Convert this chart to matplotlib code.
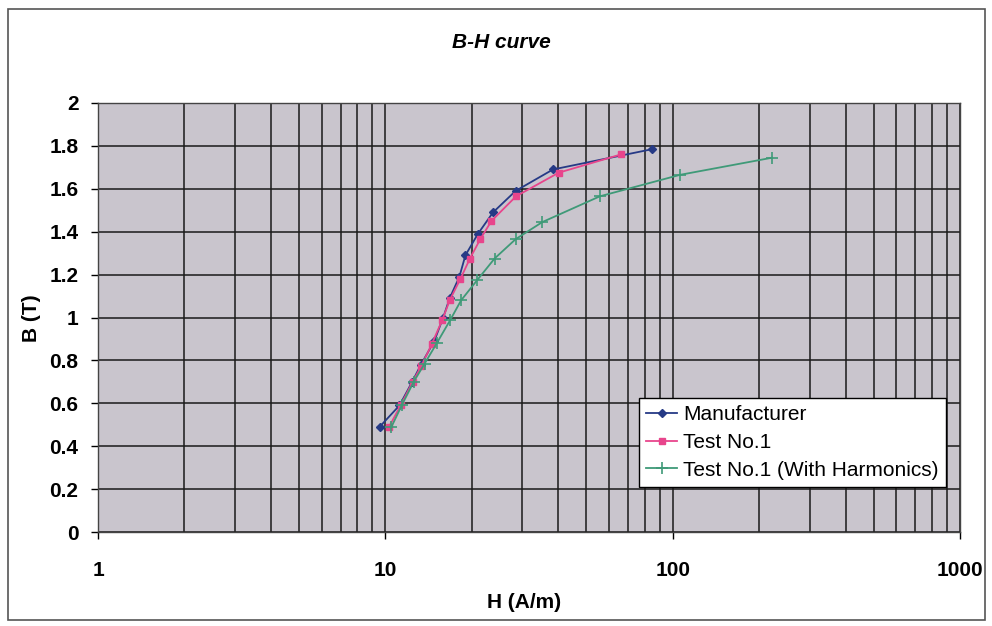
import numpy as np
import matplotlib.pyplot as plt
from matplotlib.ticker import FixedLocator, LogLocator, NullFormatter
from matplotlib.patches import Rectangle

# data
h_man = [9.55, 11.2, 12.4, 13.3, 14.8, 15.9, 16.75, 18.1, 19.0, 21.0, 23.7, 28.4, 38.3, 85.0]
b_man = [0.49, 0.59, 0.70, 0.78, 0.89, 1.00, 1.09, 1.19, 1.29, 1.39, 1.49, 1.59, 1.69, 1.785]

h_test = [10.3, 11.3, 12.45, 13.35, 14.5, 15.8, 16.75, 18.25, 19.7, 21.4, 23.4, 28.5, 40.1, 66.0]
b_test = [0.49, 0.59, 0.70, 0.775, 0.875, 0.99, 1.08, 1.18, 1.275, 1.365, 1.45, 1.565, 1.675, 1.76]

h_harm = [10.5, 11.4, 12.55, 13.7, 15.1, 16.85, 18.35, 20.9, 24.0, 28.4, 35.2, 55.8, 106.0, 222.0]
b_harm = [0.49, 0.59, 0.70, 0.785, 0.88, 0.99, 1.08, 1.175, 1.275, 1.365, 1.445, 1.565, 1.665, 1.745]

plt.rcParams['font.family'] = ['Liberation Sans', 'DejaVu Sans']

fig = plt.figure(figsize=(9.92, 6.26), dpi=100)
fig.patch.set_facecolor('white')
fig.patches.append(Rectangle((0.008, 0.01), 0.985, 0.975, transform=fig.transFigure,
                             fill=False, edgecolor='#555555', linewidth=1.2))

ax = fig.add_axes([98 / 992, 1 - 532 / 626, (960 - 98) / 992, (532 - 103) / 626])
ax.set_facecolor('#c9c5cd')

ax.plot(h_man, b_man, color='#263a86', marker='D', markersize=4.5, linewidth=1.3, label='Manufacturer')
ax.plot(h_test, b_test, color='#e8458c', marker='s', markersize=5, linewidth=1.3, label='Test No.1')
ax.plot(h_harm, b_harm, color='#3f9a78', marker='+', markersize=8, markeredgewidth=1.2,
        linewidth=1.3, label='Test No.1 (With Harmonics)')

ax.set_xscale('log')
ax.set_xlim(1, 1000)
ax.set_ylim(0, 2)
ax.xaxis.set_major_locator(FixedLocator([1, 10, 100, 1000]))
ax.xaxis.set_minor_locator(LogLocator(base=10, subs=np.arange(2, 10)))
ax.xaxis.set_minor_formatter(NullFormatter())
ax.set_xticklabels(['1', '10', '100', '1000'])
ax.set_yticks(np.arange(0, 2.01, 0.2))
ax.set_yticklabels(['0', '0.2', '0.4', '0.6', '0.8', '1', '1.2', '1.4', '1.6', '1.8', '2'])

ax.grid(True, which='major', color='#1a1a1a', linewidth=1.1)
ax.grid(True, which='minor', axis='x', color='#1a1a1a', linewidth=1.1)
ax.set_axisbelow(True)
for s in ax.spines.values():
    s.set_color('#444444')
    s.set_linewidth(1.0)

ax.tick_params(axis='both', which='major', length=5, width=1, labelsize=15)
ax.tick_params(axis='x', which='major', pad=16)
ax.tick_params(axis='x', which='minor', length=0)
ax.tick_params(axis='y', pad=9)
for lab in ax.get_xticklabels() + ax.get_yticklabels():
    lab.set_fontweight('bold')

ax.set_xlabel('H (A/m)', fontsize=15, fontweight='bold')
ax.xaxis.set_label_coords((524 - 98) / 862, -(593 - 532) / 429)
ax.set_ylabel('B (T)', fontsize=15, fontweight='bold')
ax.yaxis.set_label_coords(-(98 - 41) / 862, (532 - 318) / 429)
fig.text(501 / 992, 1 - 42 / 626, 'B-H curve', ha='center', va='center',
         fontsize=15, fontweight='bold', fontstyle='italic')

leg = ax.legend(loc='lower right', bbox_to_anchor=(0.984, 0.105), borderaxespad=0,
                fontsize=15, frameon=True, fancybox=False, framealpha=1, edgecolor='black',
                borderpad=0.35, handlelength=1.5, labelspacing=0.42, handletextpad=0.3)
leg.get_frame().set_linewidth(1.0)

fig.savefig('out.png', dpi=100)
